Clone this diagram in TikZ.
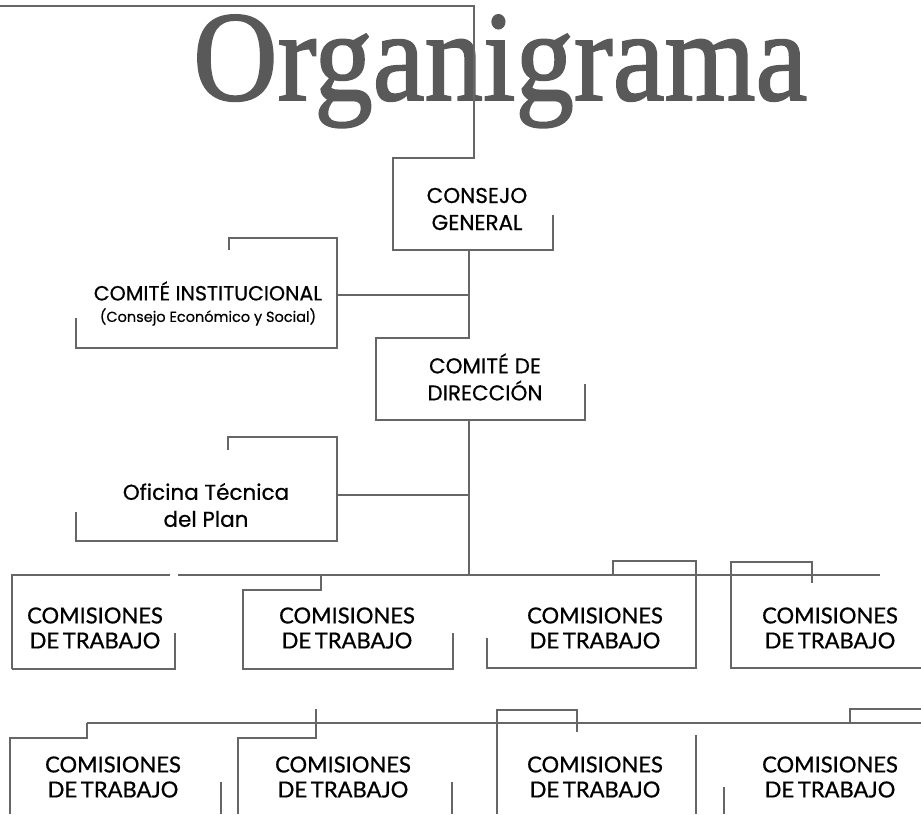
\documentclass[tikz,border=0pt]{standalone}
\usepackage{fontspec}
\usepackage{graphicx}
\setmainfont{Liberation Serif}
\newfontfamily\titlefont[FakeBold=1.5]{Liberation Serif}
\newfontfamily\gothic[FakeBold=0.6]{Poppins}
\newfontfamily\gill[FakeBold=0.8]{Lato}
\begin{document}
\begin{tikzpicture}[x=1pt,y=-1pt,
  frame/.style={draw=black!60,line width=1.4pt,line join=miter},
  upper/.style={font=\gothic\fontsize{21.5}{27}\selectfont,align=center,text=black,inner sep=0pt},
  small/.style={font=\gothic\fontsize{14.5}{16}\selectfont,text=black,inner sep=0pt},
  comi/.style={font=\gill\fontsize{22}{25}\selectfont,align=center,text=black,inner sep=0pt}]
\useasboundingbox (0,0) rectangle (921,814);
% title
\node[anchor=base west,inner sep=0pt,text=black!65] (title) at (193,100) {\resizebox{614pt}{85pt}{\titlefont Organigrama}};
% Consejo general
\coordinate (cgTop) at (0,6);
\draw[frame] (cgTop) -- (474,6) -- (474,158) -- (393,158) -- (393,250) -- (553,250) -- (553,215);
\node[upper] (cg) at (477,209) {CONSEJO\\GENERAL};
% trunk and direction
\coordinate (cgB) at (469,250);
\coordinate (cdTop) at (469,338);
\draw[frame] (cgB) -- (cdTop) -- (376,338) -- (376,420) -- (585,420) -- (585,384);
\node[upper] (cd) at (485,377) {COMIT\'E DE\\DIRECCI\'ON};
% comite institucional
\draw[frame] (229,250) -- (229,238) -- (337,238) -- (337,348) -- (76,348) -- (76,318);
\node[font=\gothic\fontsize{20.5}{24}\selectfont,inner sep=0pt] (ci) at (208,291) {COMIT\'E INSTITUCIONAL};
\node[small] (ci2) at (208,317) {(Consejo Econ\'omico y Social)};
\coordinate (ciR) at (337,295);
\coordinate (ciT) at (469,295);
\draw[frame] (ciR) -- (ciT);
% oficina
\draw[frame] (228,450) -- (228,437) -- (337,437) -- (337,541) -- (76,541) -- (76,512);
\node[upper] (of) at (206,505) {Oficina T\'ecnica\\del Plan};
\coordinate (ofR) at (337,495);
\coordinate (ofT) at (469,495);
\draw[frame] (ofR) -- (ofT);
\coordinate (cdB) at (469,420);
\coordinate (row1) at (469,575);
\draw[frame] (cdB) -- (row1);
% row 1
\draw[frame] (12,669) -- (12,575) -- (170,575);
\draw[frame] (178,575) -- (880,575);
\draw[frame] (12,669) -- (175,669) -- (175,633);
\draw[frame] (321,575) -- (321,590) -- (243,590) -- (243,669) -- (453,669) -- (453,633);
\draw[frame] (613,575) -- (613,561) -- (696,561) -- (696,668) -- (487,668) -- (487,638);
\draw[frame] (921,668) -- (731,668) -- (731,562) -- (812,562) -- (812,583);
\node[comi] (a) at (95,628) {COMISIONES\\DE\,TRABAJO};
\node[comi] (b) at (347,628) {COMISIONES\\DE\,TRABAJO};
\node[comi] (c) at (595,628) {COMISIONES\\DE\,TRABAJO};
\node[comi] (d) at (830,628) {COMISIONES\\DE\,TRABAJO};
% row 2
\draw[frame] (87,723) -- (921,723);
\draw[frame] (87,723) -- (87,738) -- (10,738) -- (10,814);
\draw[frame] (221,782) -- (221,814);
\draw[frame] (316,709) -- (316,738) -- (238,738) -- (238,814);
\draw[frame] (452,782) -- (452,814);
\draw[frame] (577,732) -- (577,710) -- (497,710) -- (497,814);
\draw[frame] (696,735) -- (696,814);
\draw[frame] (724,787) -- (724,814);
\draw[frame] (850,723) -- (850,709) -- (921,709);
\node[comi] (e) at (113,777) {COMISIONES\\DE\,TRABAJO};
\node[comi] (f) at (343,777) {COMISIONES\\DE\,TRABAJO};
\node[comi] (g) at (595,777) {COMISIONES\\DE\,TRABAJO};
\node[comi] (h) at (830,777) {COMISIONES\\DE\,TRABAJO};
\end{tikzpicture}
\end{document}
